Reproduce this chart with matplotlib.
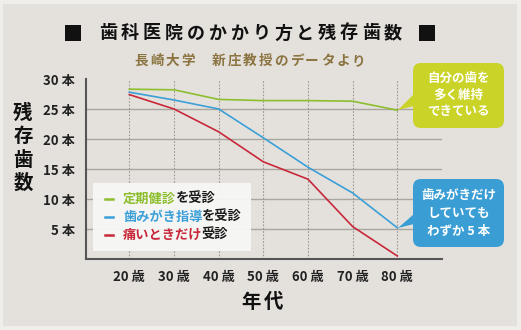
import matplotlib.pyplot as plt
from matplotlib.patches import Rectangle, FancyBboxPatch, Polygon

plt.rcParams['font.family'] = ['Noto Sans CJK JP', 'DejaVu Sans']

ages = [20, 30, 40, 50, 60, 70, 80]
age_labels = ["20 歳", "30 歳", "40 歳", "50 歳", "60 歳", "70 歳", "80 歳"]
checkup = [28.3, 28.2, 26.6, 26.4, 26.4, 26.3, 24.8]
brushing = [27.8, 26.5, 25.0, 20.2, 15.3, 11.0, 5.2]
pain_only = [27.4, 25.0, 21.2, 16.2, 13.3, 5.4, 0.5]
y_ticks = [5, 10, 15, 20, 25, 30]
y_labels = ["5 本", "10 本", "15 本", "20 本", "25 本", "30 本"]

green = '#8dbe2d'
blue = '#3b9fd8'
red = '#c8283a'

W, H = 521, 330
fig = plt.figure(figsize=(W / 100, H / 100), dpi=100, facecolor='#f0eeeb')

# background panel
bg = fig.add_axes([0, 0, 1, 1], zorder=0)
bg.set_xlim(0, W)
bg.set_ylim(H, 0)
bg.axis('off')
bg.add_patch(Rectangle((3, 4), 514, 322, color='#e4e1dd', lw=0))

# main chart
ax = fig.add_axes([86 / W, (H - 259) / H, (442 - 86) / W, (259 - 79) / H], zorder=1)
ax.patch.set_alpha(0)
ax.set_xlim(10.3, 90)
ax.set_ylim(0, 30)
for y in y_ticks[:-1]:
    ax.axhline(y, color='#a9a59f', lw=1, zorder=1)
for x in ages:
    ax.axvline(x, color='#9c9892', lw=0.8, ls=(0, (1.5, 1.5)), zorder=1)
ax.plot(ages, checkup, color=green, lw=1.2, zorder=3)
ax.plot(ages, brushing, color=blue, lw=1.2, zorder=3)
ax.plot(ages, pain_only, color=red, lw=1.2, zorder=3)
ax.set_xticks(ages)
ax.set_xticklabels(age_labels, fontsize=9.5, fontweight='bold', color='#222222')
ax.set_yticks(y_ticks)
ax.set_yticklabels(y_labels, fontsize=9.5, fontweight='bold', color='#222222')
ax.tick_params(length=0, pad=8)
for s in ['top', 'right']:
    ax.spines[s].set_visible(False)
for s in ['left', 'bottom']:
    ax.spines[s].set_color('#555555')
    ax.spines[s].set_linewidth(1.5)

# overlay for texts and callouts
ov = fig.add_axes([0, 0, 1, 1], zorder=3)
ov.set_xlim(0, W)
ov.set_ylim(H, 0)
ov.axis('off')
ov.patch.set_alpha(0)

# title with letter spacing
title = "歯科医院のかかり方と残存歯数"
ov.add_patch(Rectangle((65, 25), 16, 16, color='#111111', lw=0))
ov.add_patch(Rectangle((419, 25), 16, 16, color='#111111', lw=0))
for i, ch in enumerate(title):
    ov.text(108 + i * 21.9, 33, ch, fontsize=13, fontweight='bold',
            ha='center', va='center', color='#111111')

sub = "長崎大学 新庄教授のデータより"
for i, ch in enumerate(sub):
    ov.text(141.5 + i * 15.5, 61, ch, fontsize=9.8, fontweight='bold',
            ha='center', va='center', color='#8b7440')

# y label
for ch, y in zip("残存歯数", [113, 137, 160, 183]):
    ov.text(23, y, ch, fontsize=14, fontweight='bold', ha='center', va='center',
            color='#111111')

# x label
ov.text(251, 302, "年", fontsize=14, fontweight='bold', ha='center', va='center', color='#111111')
ov.text(274, 302, "代", fontsize=14, fontweight='bold', ha='center', va='center', color='#111111')

# legend box
ov.add_patch(Rectangle((93, 183), 158, 68, facecolor='#f7f7f6', edgecolor='none', alpha=0.95))
legend_rows = [("定期健診", "を受診", green, 199),
               ("歯みがき指導", "を受診", blue, 217),
               ("痛いときだけ", "受診", red, 235)]
cw = 13.0
for colored, rest, c, y in legend_rows:
    ov.plot([105, 113], [y, y], color=c, lw=1.8)
    ov.text(123, y, colored, fontsize=9.5, fontweight='bold', ha='left', va='center', color=c)
    ov.text(123 + len(colored) * cw, y, rest, fontsize=9.5, fontweight='bold',
            ha='left', va='center', color='#1a1a1a')

# callouts
lime = '#cad327'
ov.add_patch(FancyBboxPatch((413, 63), 91, 65, boxstyle='round,pad=0,rounding_size=8',
                            facecolor=lime, edgecolor='none'))
ov.add_patch(Polygon([(398, 110), (414, 94), (414, 106)], closed=True,
                     facecolor=lime, edgecolor='none'))
for t, y in zip(["自分の歯を", "多く維持", "できている"], [78, 95, 112]):
    ov.text(458.5, y, t, fontsize=9, fontweight='bold', ha='center', va='center', color='white')

cblue = '#3a9ed5'
ov.add_patch(FancyBboxPatch((413, 179), 91, 68, boxstyle='round,pad=0,rounding_size=8',
                            facecolor=cblue, edgecolor='none'))
ov.add_patch(Polygon([(398, 228), (414, 214), (414, 224)], closed=True,
                     facecolor=cblue, edgecolor='none'))
for t, y in zip(["歯みがきだけ", "していても", "わずか 5 本"], [196, 213, 231]):
    ov.text(458.5, y, t, fontsize=9, fontweight='bold', ha='center', va='center', color='white')

fig.savefig('out.png', dpi=100, facecolor=fig.get_facecolor())
